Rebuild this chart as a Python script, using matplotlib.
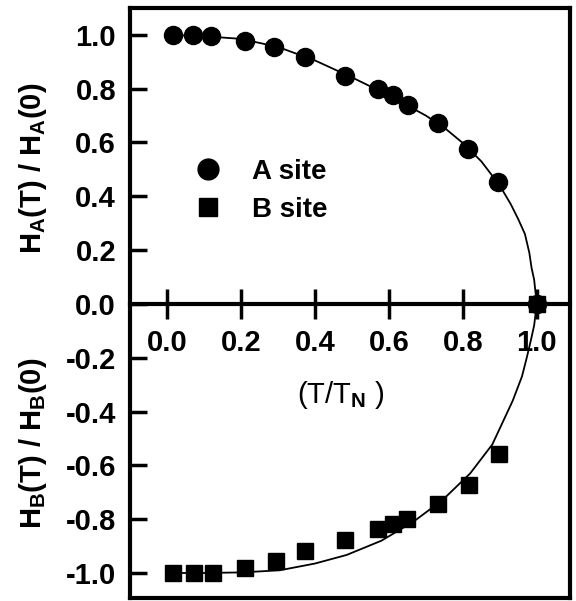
import matplotlib.pyplot as plt
from matplotlib.lines import Line2D

plt.rcParams['font.family'] = 'Liberation Sans'
plt.rcParams['font.weight'] = 'bold'
plt.rcParams['mathtext.fontset'] = 'custom'
plt.rcParams['mathtext.rm'] = 'Liberation Sans:bold'
plt.rcParams['mathtext.bf'] = 'Liberation Sans:bold'
plt.rcParams['axes.unicode_minus'] = False

# reduced temperature of the measured points
t_a = [0.016, 0.07, 0.12, 0.21, 0.29, 0.373, 0.481, 0.57, 0.611, 0.651, 0.732, 0.814, 0.895, 1.0]
h_a = [1.0, 1.0, 0.995, 0.978, 0.955, 0.918, 0.847, 0.798, 0.776, 0.738, 0.672, 0.575, 0.452, 0.0]

t_b = [0.016, 0.073, 0.125, 0.21, 0.294, 0.373, 0.481, 0.57, 0.611, 0.65, 0.732, 0.816, 0.897, 1.0]
h_b = [-1.0, -1.0, -1.0, -0.98, -0.955, -0.92, -0.877, -0.836, -0.817, -0.80, -0.742, -0.672, -0.556, 0.0]

# fitted curves
fit_t_a = [0.0, 0.1, 0.2, 0.3, 0.4, 0.5, 0.6, 0.7, 0.75, 0.8, 0.85, 0.9, 0.93, 0.95, 0.968, 0.98, 0.986, 0.993, 1.0]
fit_h_a = [1.0, 0.995, 0.985, 0.955, 0.905, 0.842, 0.775, 0.70, 0.655, 0.598, 0.53, 0.44, 0.37, 0.315, 0.26, 0.19, 0.134, 0.09, 0.0]

fit_t_b = [0.0, 0.1, 0.2, 0.305, 0.4, 0.486, 0.58, 0.666, 0.746, 0.82, 0.88, 0.935, 0.96, 0.973, 0.985, 0.993, 1.0]
fit_h_b = [-1.0, -1.0, -0.998, -0.99, -0.965, -0.933, -0.88, -0.81, -0.728, -0.63, -0.522, -0.36, -0.27, -0.20, -0.13, -0.08, 0.0]

fig = plt.figure(figsize=(5.76, 6.01), dpi=100)
ax = fig.add_axes([0.2257, 0.005, 0.7639, 0.9818])

ax.plot(fit_t_a, fit_h_a, color='black', lw=1.3, zorder=2)
ax.plot(fit_t_b, fit_h_b, color='black', lw=1.3, zorder=2)
ax.plot(t_a, h_a, 'o', color='black', ms=13, zorder=3)
ax.plot(t_b, h_b, 's', color='black', ms=12, zorder=3)

ax.set_xlim(-0.1, 1.09)
ax.set_ylim(-1.093, 1.10)

# x axis runs through zero, frame kept all round
ax.spines['bottom'].set_position(('data', 0))
for s in ax.spines.values():
    s.set_linewidth(3)
ax.plot([0, 1], [0, 0], transform=ax.transAxes, color='black', lw=3, clip_on=False)

ax.set_xticks([0.0, 0.2, 0.4, 0.6, 0.8, 1.0])
ax.set_yticks([-1.0, -0.8, -0.6, -0.4, -0.2, 0.0, 0.2, 0.4, 0.6, 0.8, 1.0])
ax.xaxis.set_major_formatter('{x:.1f}')
ax.yaxis.set_major_formatter('{x:.1f}')
ax.tick_params(axis='x', direction='inout', length=22, width=2.5, pad=7, labelsize=21)
ax.tick_params(axis='y', direction='in', length=12, width=2.5, pad=10, labelsize=21)

ax.text(0.47, -0.34, '(T/T$_\\mathrm{N}$ )', fontsize=21, fontweight='normal',
        ha='center', va='center')

fig.text(0.057, 0.72, 'H$_\\mathrm{A}$(T) / H$_\\mathrm{A}$(0)', rotation=90,
         fontsize=21, ha='center', va='center')
fig.text(0.057, 0.263, 'H$_\\mathrm{B}$(T) / H$_\\mathrm{B}$(0)', rotation=90,
         fontsize=21, ha='center', va='center')

handles = [Line2D([], [], marker='o', ls='', color='black', ms=15),
           Line2D([], [], marker='s', ls='', color='black', ms=13)]
ax.legend(handles, ['A site', 'B site'], loc='center left', bbox_to_anchor=(0.088, 0.69),
          frameon=False, fontsize=20, handletextpad=0.6, labelspacing=0.45,
          borderaxespad=0)

fig.savefig('out.png', dpi=100)
